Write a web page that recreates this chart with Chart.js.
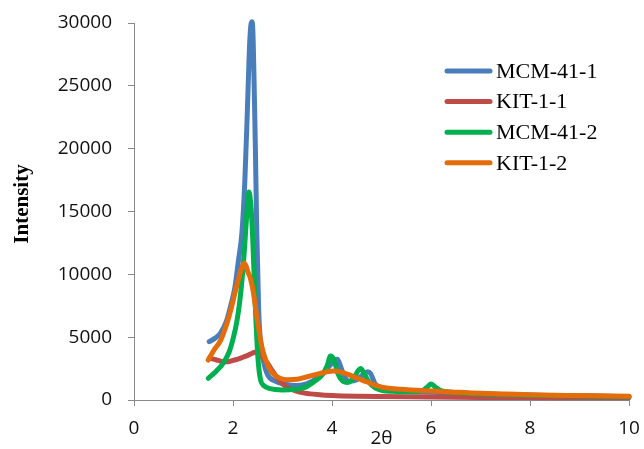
<!DOCTYPE html>
<html>
<head>
<meta charset="utf-8">
<title>XRD patterns</title>
<script src="https://cdn.jsdelivr.net/npm/chart.js@4/dist/chart.umd.min.js"></script>
<style>
  html, body { margin: 0; padding: 0; background: #fff; }
  #wrap { width: 644px; height: 449px; position: relative; }
</style>
</head>
<body>
<div id="wrap"><canvas id="xrdChart" width="644" height="449"></canvas></div>
<script>
// --- dados (2θ, intensidade) ---
const seriesNames = ['MCM-41-1', 'KIT-1-1', 'MCM-41-2', 'KIT-1-2'];
const seriesColors = ['#4a7ebb', '#be4b48', '#00b050', '#e46c0a'];

const mcm1X = [1.52, 1.65, 1.75, 1.87, 1.96, 2.04, 2.11, 2.18, 2.24, 2.29, 2.33, 2.36, 2.38, 2.40, 2.42, 2.45, 2.48, 2.52, 2.56, 2.62, 2.70, 2.85, 3.05, 3.30, 3.50, 3.70, 3.85, 3.97, 4.05, 4.11, 4.17, 4.25, 4.35, 4.50, 4.62, 4.72, 4.78, 4.87, 5.00, 5.20, 5.50, 6.00, 6.50, 7.00, 7.50, 8.00, 9.00, 10.00];
const mcm1Y = [4640, 4950, 5350, 6300, 7600, 9000, 11100, 13300, 17500, 23000, 27800, 29800, 30100, 29500, 26500, 20500, 13500, 7000, 4500, 3000, 2000, 1500, 1250, 1150, 1300, 1750, 2250, 2800, 3200, 3250, 2700, 1900, 1500, 1600, 2000, 2250, 2100, 1300, 950, 800, 700, 620, 550, 480, 420, 380, 320, 260];

const kit1X = [1.52, 1.60, 1.70, 1.80, 1.90, 2.00, 2.10, 2.20, 2.30, 2.38, 2.44, 2.50, 2.56, 2.61, 2.70, 2.80, 2.90, 3.00, 3.10, 3.25, 3.45, 3.75, 4.00, 4.50, 5.00, 6.00, 7.00, 8.00, 9.00, 10.00];
const kit1Y = [3310, 3250, 3150, 3050, 3050, 3150, 3250, 3400, 3550, 3700, 3800, 3700, 3500, 3350, 2900, 2300, 1750, 1300, 1000, 750, 550, 420, 360, 300, 270, 230, 200, 190, 180, 170];

const mcm2X = [1.50, 1.65, 1.80, 1.92, 2.01, 2.08, 2.14, 2.19, 2.23, 2.27, 2.30, 2.32, 2.34, 2.37, 2.40, 2.43, 2.46, 2.49, 2.52, 2.56, 2.62, 2.75, 3.00, 3.25, 3.45, 3.65, 3.80, 3.90, 3.97, 4.04, 4.12, 4.22, 4.32, 4.45, 4.53, 4.58, 4.65, 4.75, 4.88, 5.00, 5.30, 5.60, 5.80, 5.93, 6.00, 6.08, 6.20, 6.40, 6.80, 7.30, 8.00, 9.00, 10.00];
const mcm2Y = [1730, 2250, 2920, 3800, 5000, 6300, 7960, 9900, 11900, 14300, 15900, 16550, 16300, 15000, 12700, 9600, 6600, 4200, 2600, 1550, 1150, 900, 800, 850, 1000, 1500, 2000, 2700, 3500, 3200, 2100, 1500, 1400, 1800, 2350, 2500, 2100, 1400, 950, 780, 680, 650, 700, 1050, 1270, 1050, 750, 620, 520, 450, 380, 310, 260];

const kit2X = [1.50, 1.62, 1.75, 1.87, 1.97, 2.05, 2.11, 2.16, 2.20, 2.23, 2.26, 2.30, 2.35, 2.41, 2.46, 2.51, 2.56, 2.61, 2.68, 2.75, 2.85, 2.95, 3.10, 3.30, 3.50, 3.70, 3.90, 4.05, 4.20, 4.35, 4.50, 4.70, 4.90, 5.10, 5.40, 5.80, 6.30, 7.00, 7.50, 8.00, 9.00, 10.00];
const kit2Y = [3180, 4000, 4750, 6000, 7400, 8700, 9600, 10300, 10750, 10880, 10700, 10200, 9700, 8600, 7200, 5900, 4700, 3800, 3000, 2400, 1950, 1730, 1620, 1650, 1850, 2050, 2250, 2300, 2200, 2000, 1750, 1450, 1150, 950, 850, 750, 660, 530, 480, 420, 350, 290];

// --- eixos ---
const xTicks = [0, 2, 4, 6, 8, 10];
const yTicks = [0, 5000, 10000, 15000, 20000, 25000, 30000];

const seriesX = [mcm1X, kit1X, mcm2X, kit2X];
const seriesY = [mcm1Y, kit1Y, mcm2Y, kit2Y];

function toPoints(xs, ys) {
  return xs.map((x, i) => ({ x: x, y: ys[i] }));
}

const axisGrey = '#898989';
const tickFont = { family: '"Open Sans", sans-serif', size: 19 };

// legenda dentro da área do gráfico + título vertical "Intensity"
const insideLegend = {
  id: 'insideLegend',
  afterDraw(chart) {
    const ctx = chart.ctx;
    const x0 = 447, x1 = 490, textX = 496;
    ctx.save();
    ctx.font = '22px "Liberation Serif", "Times New Roman", serif';
    ctx.textBaseline = 'middle';
    ctx.textAlign = 'left';
    ctx.lineCap = 'round';
    ctx.lineWidth = 5;
    chart.data.datasets.forEach((ds, i) => {
      const y = 71 + i * 30.6;
      ctx.strokeStyle = ds.borderColor;
      ctx.beginPath();
      ctx.moveTo(x0, y);
      ctx.lineTo(x1, y);
      ctx.stroke();
      ctx.fillStyle = '#000';
      ctx.fillText(ds.label, textX, y + 1);
    });

    // título do eixo Y, um pouco acima do centro do eixo
    ctx.translate(23, 204);
    ctx.rotate(-Math.PI / 2);
    ctx.textAlign = 'center';
    ctx.font = 'bold 21px "Liberation Serif", "Times New Roman", serif';
    ctx.fillStyle = '#000';
    ctx.fillText('Intensity', 0, 0);
    ctx.restore();
  }
};

const datasets = seriesNames.map((name, i) => ({
  label: name,
  data: toPoints(seriesX[i], seriesY[i]),
  borderColor: seriesColors[i],
  borderWidth: 5,
  borderCapStyle: 'round',
  borderJoinStyle: 'round',
  pointRadius: 0,
  fill: false,
  clip: false,
  cubicInterpolationMode: 'monotone',
  order: seriesNames.length - i
}));

new Chart(document.getElementById('xrdChart'), {
  type: 'line',
  data: { datasets: datasets },
  options: {
    responsive: false,
    animation: false,
    layout: { padding: { top: 23, right: 15, left: 0, bottom: 0 } },
    plugins: {
      legend: { display: false },
      tooltip: { enabled: false }
    },
    scales: {
      x: {
        type: 'linear',
        min: 0,
        max: 10,
        afterBuildTicks: (scale) => { scale.ticks = xTicks.map(v => ({ value: v })); },
        // altura fixa do eixo; sem folga extra para o rótulo "10"
        afterFit: (scale) => { scale.height = 49; scale.paddingLeft = 0; scale.paddingRight = 0; },
        grid: { display: true, drawOnChartArea: false, color: axisGrey, tickLength: 6, lineWidth: 1 },
        border: { color: axisGrey, width: 1 },
        ticks: { color: '#111', font: tickFont, padding: 11, maxRotation: 0 },
        title: {
          display: true,
          text: '2θ',
          color: '#111',
          font: { family: '"Open Sans", sans-serif', size: 19, lineHeight: 1 },
          padding: { top: 0, bottom: 1 }
        }
      },
      y: {
        type: 'linear',
        min: 0,
        max: 30000,
        afterBuildTicks: (scale) => { scale.ticks = yTicks.map(v => ({ value: v })); },
        afterFit: (scale) => { scale.width = 134; scale.paddingTop = 0; scale.paddingBottom = 0; },
        grid: { display: true, drawOnChartArea: false, color: axisGrey, tickLength: 6, lineWidth: 1 },
        border: { color: axisGrey, width: 1 },
        ticks: { color: '#111', font: tickFont, padding: 16, callback: (v) => String(v) },
        title: { display: false }
      }
    }
  },
  plugins: [insideLegend]
});
</script>
</body>
</html>
